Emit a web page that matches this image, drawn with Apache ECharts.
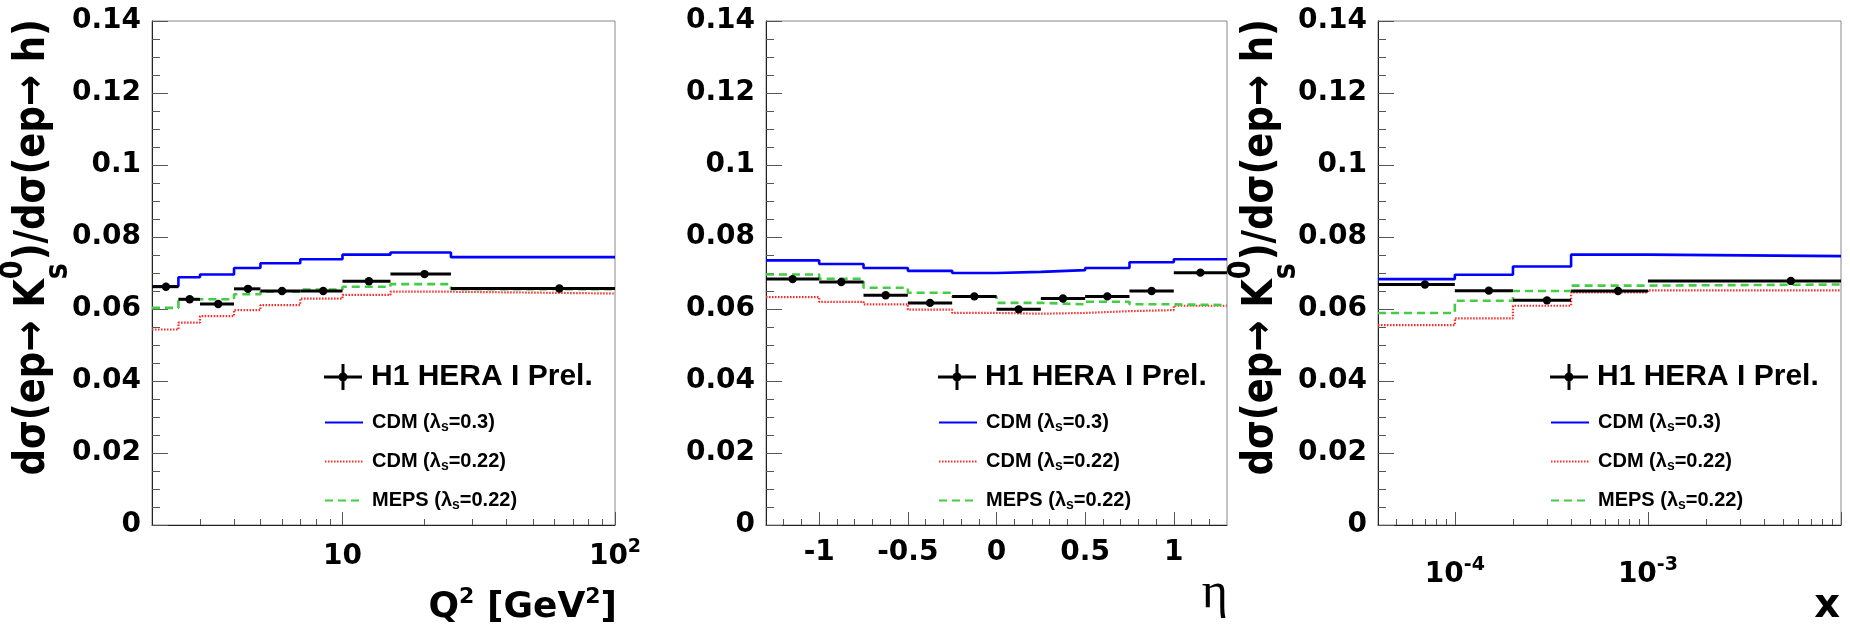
<!DOCTYPE html>
<html><head><meta charset="utf-8">
<script src="https://cdn.jsdelivr.net/npm/echarts@6/dist/echarts.min.js"></script>
<style>html,body{margin:0;padding:0;background:#fff}#c{width:1850px;height:632px}</style>
</head><body><div id="c"></div>
<script>
// ---------- Panel 1 : Q^2 ----------
const q2Edges   = [2, 2.5, 3, 4, 5, 7, 10, 15, 25, 100];
const q2Centers = [2.25, 2.75, 3.5, 4.5, 6, 8.5, 12.5, 20, 62.5];
const q2Data    = [0.0662, 0.0627, 0.0614, 0.0656, 0.0650, 0.0650, 0.0677, 0.0697, 0.0657];
const q2CDM03   = [0.0663, 0.0688, 0.0696, 0.0714, 0.0727, 0.0738, 0.0751, 0.0757, 0.0744];
const q2CDM022  = [0.0543, 0.0562, 0.0580, 0.0597, 0.0611, 0.0629, 0.0639, 0.0648, 0.0643];
const q2MEPS    = [0.0603, 0.0627, 0.0627, 0.0641, 0.0648, 0.0654, 0.0662, 0.0669, 0.0655];
const q2MajorTicks = [10, 100];
const q2MinorTicks = [3, 4, 5, 6, 7, 8, 9, 20, 30, 40, 50, 60, 70, 80, 90];

// ---------- Panel 2 : eta ----------
const etaEdges   = [-1.3, -1, -0.75, -0.5, -0.25, 0, 0.25, 0.5, 0.75, 1, 1.3];
const etaCenters = [-1.15, -0.875, -0.625, -0.375, -0.125, 0.125, 0.375, 0.625, 0.875, 1.15];
const etaData    = [0.0683, 0.0675, 0.0638, 0.0617, 0.0635, 0.0599, 0.0629, 0.0635, 0.0650, 0.0701];
const etaCDM03   = [0.0735, 0.0725, 0.0714, 0.0706, 0.0700, 0.0703, 0.0708, 0.0714, 0.0730, 0.0738];
const etaCDM022  = [0.0633, 0.0620, 0.0613, 0.0598, 0.0589, 0.0587, 0.0589, 0.0594, 0.0597, 0.0609];
const etaMEPS    = [0.0696, 0.0684, 0.0659, 0.0645, 0.0634, 0.0617, 0.0613, 0.0620, 0.0613, 0.0611];
const etaMajorTicks = [-1, -0.5, 0, 0.5, 1];
const etaMinorTicks = [-1.2, -1.1, -0.9, -0.8, -0.7, -0.6, -0.4, -0.3, -0.2, -0.1, 0.1, 0.2, 0.3, 0.4, 0.6, 0.7, 0.8, 0.9, 1.1, 1.2];

// ---------- Panel 3 : x ----------
const xEdges   = [4e-5, 1e-4, 2e-4, 4e-4, 1e-3, 1e-2];
const xCenters = [7e-5, 1.5e-4, 3e-4, 7e-4, 5.5e-3];
const xData    = [0.0668, 0.0651, 0.0624, 0.0650, 0.0678];
const xCDM03   = [0.0683, 0.0695, 0.0718, 0.0751, 0.0747];
const xCDM022  = [0.0555, 0.0574, 0.0609, 0.0646, 0.0652];
const xMEPS    = [0.0589, 0.0623, 0.0650, 0.0665, 0.0668];
const xMajorTicks = [1e-4, 1e-3, 1e-2];
const xMajorLabels = [1e-4, 1e-3];
const xMinorTicks = [5e-5, 6e-5, 7e-5, 8e-5, 9e-5, 2e-4, 3e-4, 4e-4, 5e-4, 6e-4, 7e-4, 8e-4, 9e-4,
                     2e-3, 3e-3, 4e-3, 5e-3, 6e-3, 7e-3, 8e-3, 9e-3];

const yMin = 0, yMax = 0.14, yStep = 0.02;
const names = ['H1 HERA I Prel.', 'CDM (λs=0.3)', 'CDM (λs=0.22)', 'MEPS (λs=0.22)'];

// ---------- helpers ----------
const FONT = 'DejaVu Sans';
const LFONT = 'Liberation Sans';
const stepData = (edges, vals) => edges.map((e, i) => [e, vals[Math.min(i, vals.length - 1)]]);

function textRun(pieces) {
  const ctx = document.createElement('canvas').getContext('2d');
  let x = 0, stackW = 0;
  const kids = [];
  pieces.forEach(p => {
    const font = (p.weight || 'bold') + ' ' + p.size + 'px "' + (p.family || FONT) + '"';
    ctx.font = font;
    const w = ctx.measureText(p.t).width;
    kids.push({type: 'text', x: x, y: (p.dy || 0) - 0.36 * p.size, silent: true,
      style: {text: p.t, font: font, fill: '#000', align: 'left', verticalAlign: 'middle'}});
    if (p.stack) { stackW = w; } else { x += Math.max(w, stackW); stackW = 0; }
  });
  kids.forEach(k => { k.x -= x; });
  return kids;
}

function dataRender(params, api) {
  const y = api.value(3);
  const lo = api.coord([api.value(0), y]);
  const hi = api.coord([api.value(1), y]);
  const c = api.coord([api.value(2), y]);
  return {type: 'group', children: [
    {type: 'line', shape: {x1: lo[0], y1: lo[1], x2: hi[0], y2: hi[1]}, style: {stroke: '#000', lineWidth: 3}},
    {type: 'circle', shape: {cx: c[0], cy: c[1], r: 4.2}, style: {fill: '#000'}}
  ]};
}

const grids = [
  {left: 152, top: 21, width: 463, height: 504},
  {left: 766, top: 21, width: 461, height: 504},
  {left: 1378, top: 21, width: 463, height: 504}
];

const tickColor = '#555';
const labelBase = {fontFamily: FONT, fontWeight: 'bold', fontSize: 28, color: '#000'};
const supRich = {
  m: {fontFamily: FONT, fontWeight: 'bold', fontSize: 28, lineHeight: 28, padding: [9, 0, 0, 0], color: '#000'},
  s: {fontFamily: FONT, fontWeight: 'bold', fontSize: 19, lineHeight: 19, verticalAlign: 'top', color: '#000'}
};
const powLabel = v => {
  const e = Math.round(Math.log10(v));
  return e === 1 ? '{m|10}' : '{m|10}{s|' + e + '}';
};

const panels = [
  {type: 'log', min: 2, max: 100, edges: q2Edges, centers: q2Centers, data: q2Data, cdm03: q2CDM03, cdm022: q2CDM022, meps: q2MEPS,
   major: q2MajorTicks, majorLabels: q2MajorTicks, minor: q2MinorTicks, formatter: powLabel, rich: supRich, margin: 13},
  {type: 'value', min: -1.3, max: 1.3, edges: etaEdges, centers: etaCenters, data: etaData, cdm03: etaCDM03, cdm022: etaCDM022, meps: etaMEPS,
   major: etaMajorTicks, majorLabels: etaMajorTicks, minor: etaMinorTicks, formatter: v => String(Math.round(v * 10) / 10), rich: null, margin: 14},
  {type: 'log', min: 4e-5, max: 1e-2, edges: xEdges, centers: xCenters, data: xData, cdm03: xCDM03, cdm022: xCDM022, meps: xMEPS,
   major: xMajorTicks, majorLabels: xMajorLabels, minor: xMinorTicks, formatter: powLabel, rich: supRich, margin: 31}
];

const xAxes = [], yAxes = [], series = [], legends = [];
const dataIcon = 'path://M0,11.5h38v3h-38z M17.5,0h3v26h-3z M23.5,13a4.5,4.5 0 1,1 -9,0a4.5,4.5 0 1,1 9,0z';
const noSymbol = {color: 'rgba(0,0,0,0)', borderColor: 'rgba(0,0,0,0)', borderWidth: 0};
const legendRich = {
  h: {fontFamily: LFONT, fontWeight: 'bold', fontSize: 30, lineHeight: 34, padding: [0, 0, 0, 4], color: '#000'},
  t0: {fontFamily: LFONT, fontWeight: 'bold', fontSize: 20, lineHeight: 24, padding: [0, 0, 0, 4], color: '#000'},
  t: {fontFamily: LFONT, fontWeight: 'bold', fontSize: 20, lineHeight: 24, color: '#000'},
  s: {fontFamily: LFONT, fontWeight: 'bold', fontSize: 14, lineHeight: 14, verticalAlign: 'bottom', color: '#000'}
};
const legendFormatter = function (name) {
  if (name === names[0]) return '{h|' + name + '}';
  const parts = name.split('λs');
  return '{t0|' + parts[0] + 'λ}{s|s}{t|' + parts[1] + '}';
};
// top edges of the legend rows (pixels from top)
const legendRowTops = [362, 412, 451, 490];

panels.forEach((p, i) => {
  const common = {type: p.type, gridIndex: i, min: p.min, max: p.max, position: 'bottom', splitLine: {show: false}};
  if (p.type === 'log') common.logBase = 10;
  const lab = Object.assign({}, labelBase, {customValues: p.majorLabels, formatter: p.formatter, margin: p.margin});
  if (p.rich) lab.rich = p.rich;
  xAxes.push(Object.assign({}, common, {
    axisLine: {show: true, onZero: false, lineStyle: {color: '#222', width: 1}},
    axisTick: {show: true, inside: true, length: 13, customValues: p.major, lineStyle: {color: tickColor}},
    axisLabel: lab
  }));
  xAxes.push(Object.assign({}, common, {
    axisLine: {show: false, onZero: false},
    axisTick: {show: true, inside: true, length: 6, customValues: p.minor, lineStyle: {color: tickColor}},
    axisLabel: {show: false}
  }));
  yAxes.push({
    type: 'value', gridIndex: i, min: yMin, max: yMax, interval: yStep, position: 'left',
    axisLine: {show: true, onZero: false, lineStyle: {color: '#222', width: 1}},
    axisTick: {show: true, inside: true, length: 16, lineStyle: {color: tickColor}},
    minorTick: {show: true, splitNumber: 4, length: 8, lineStyle: {color: tickColor}},
    splitLine: {show: false},
    axisLabel: Object.assign({}, labelBase, {margin: 11})
  });
  const xi = 2 * i;
  series.push({name: names[1], type: 'line', step: 'end', xAxisIndex: xi, yAxisIndex: i, symbol: 'none', showSymbol: false,
    data: stepData(p.edges, p.cdm03), lineStyle: {color: '#0000ff', width: 2.6}, itemStyle: {color: '#0000ff'}, z: 3});
  series.push({name: names[2], type: 'line', step: 'end', xAxisIndex: xi, yAxisIndex: i, symbol: 'none', showSymbol: false,
    data: stepData(p.edges, p.cdm022), lineStyle: {color: '#ff2a2a', width: 2.2, type: [1.5, 1.5]}, itemStyle: {color: '#ff2a2a'}, z: 3});
  series.push({name: names[3], type: 'line', step: 'end', xAxisIndex: xi, yAxisIndex: i, symbol: 'none', showSymbol: false,
    data: stepData(p.edges, p.meps), lineStyle: {color: '#44cc44', width: 2.6, type: [8, 5]}, itemStyle: {color: '#44cc44'}, z: 3});
  series.push({name: names[0], type: 'custom', xAxisIndex: xi, yAxisIndex: i, renderItem: dataRender,
    encode: {x: [0, 1, 2], y: 3}, itemStyle: {color: '#000'}, z: 5,
    data: p.centers.map((c, k) => [p.edges[k], p.edges[k + 1], c, p.data[k]])});
  names.forEach((nm, r) => {
    legends.push({
      left: grids[i].left + 172, top: legendRowTops[r], orient: 'vertical', itemWidth: 38, itemHeight: 26, padding: 0,
      selectedMode: false,
      data: [r === 0 ? {name: nm, icon: dataIcon} : {name: nm, itemStyle: noSymbol}],
      formatter: legendFormatter,
      textStyle: {color: '#000', rich: legendRich}
    });
  });
});

const yTitlePieces = [
  {t: 'dσ(ep→ K', size: 37},
  {t: 's', size: 27, dy: 19, stack: true},
  {t: '0', size: 27, dy: -20},
  {t: ')/dσ(ep→ h)', size: 37}
];

const graphics = [
  {type: 'group', x: 48, y: 19, rotation: Math.PI / 2, scaleY: 1.15, children: textRun(yTitlePieces)},
  {type: 'group', x: 1276, y: 19, rotation: Math.PI / 2, scaleY: 1.15, children: textRun(yTitlePieces)},
  {type: 'group', x: 617, y: 621, children: textRun([
    {t: 'Q', size: 36}, {t: '2', size: 22, dy: -16}, {t: ' [GeV', size: 36}, {t: '2', size: 22, dy: -16}, {t: ']', size: 36}])},
  {type: 'group', x: 1228, y: 612, children: textRun([{t: 'η', size: 50, family: 'Liberation Serif', weight: 'normal'}])},
  {type: 'group', x: 1840, y: 621, children: textRun([{t: 'x', size: 40}])}
];

const chart = echarts.init(document.getElementById('c'), null, {renderer: 'canvas'});
chart.setOption({
  animation: false,
  backgroundColor: '#fff',
  grid: grids.map(g => Object.assign({show: true, borderColor: '#888', borderWidth: 1, backgroundColor: 'transparent',
    containLabel: false, outerBoundsMode: 'none'}, g)),
  xAxis: xAxes,
  yAxis: yAxes,
  legend: legends,
  series: series,
  graphic: graphics
});
</script></body></html>
